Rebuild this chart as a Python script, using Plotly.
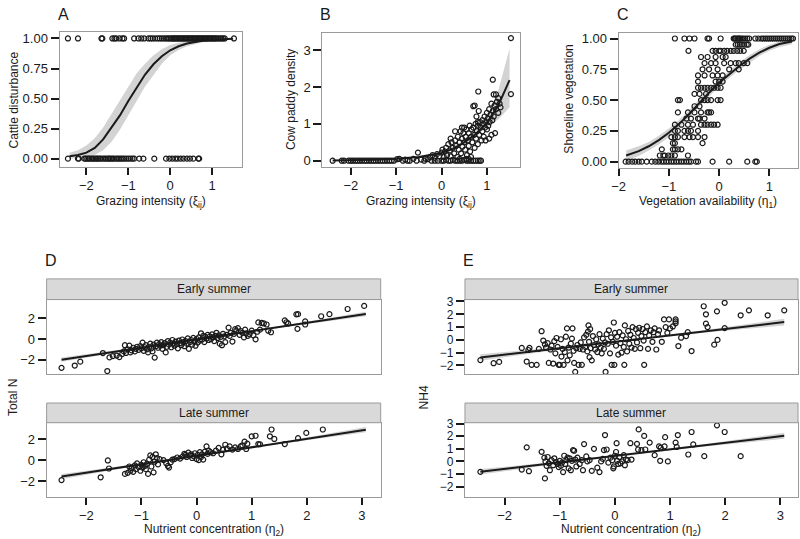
"""Seven-panel figure: grazing, vegetation and nutrient relationships."""

import plotly.graph_objects as go

W, H = 800, 539
FONT = "Liberation Sans, Arial, sans-serif"
INK = "#1a1a1a"
BAND = "#d3d3d3"
FRAME = "#9a9a9a"
STRIP = "#d9d9d9"

# ---- A: cattle disturbance (0/1) vs grazing intensity ----
A_TOP_X = [-2.44, -2.2, -1.64, -1.62, -1.38, -1.33, -1.29, -1.21, -1.14, -1.1, -0.86, -0.76,
           -0.69, -0.62, -0.52, -0.47, -0.42, -0.36, -0.3, -0.25, -0.2, -0.15, -0.1, -0.06,
           -0.02, 0.02, 0.05, 0.08, 0.11, 0.14, 0.17, 0.2, 0.23, 0.26, 0.29, 0.32, 0.35, 0.38,
           0.41, 0.44, 0.47, 0.5, 0.53, 0.56, 0.59, 0.62, 0.65, 0.68, 0.71, 0.74, 0.77, 0.8,
           0.83, 0.86, 0.89, 0.92, 0.95, 0.98, 1.01, 1.04, 1.07, 1.1, 1.14, 1.18, 1.22, 1.26,
           1.3, 1.52]
A_BOT_X = [-2.44, -2.2, -2.18, -2.05, -2.02, -1.98, -1.95, -1.92, -1.88, -1.85, -1.82, -1.78,
           -1.75, -1.72, -1.68, -1.65, -1.6, -1.56, -1.52, -1.48, -1.45, -1.42, -1.38, -1.35,
           -1.3, -1.26, -1.22, -1.18, -1.14, -1.1, -1.05, -1.0, -0.95, -0.9, -0.86, -0.74,
           -0.64, -0.38, -0.1, -0.02, 0.05, 0.12, 0.18, 0.25, 0.32, 0.4, 0.47, 0.55, 0.67, 0.69]
A_FIT_X = [-2.4, -2.2, -2.0, -1.8, -1.6, -1.4, -1.2, -1.0, -0.8, -0.6, -0.4, -0.2, 0.0, 0.2,
           0.4, 0.6, 0.8, 1.0, 1.2, 1.5]
A_FIT = [0.02, 0.03, 0.05, 0.09, 0.16, 0.255, 0.36, 0.48, 0.595, 0.70, 0.785, 0.852, 0.902,
         0.935, 0.958, 0.973, 0.983, 0.989, 0.993, 0.997]
A_LO = [0.0, 0.005, 0.015, 0.03, 0.07, 0.14, 0.24, 0.36, 0.48, 0.60, 0.70, 0.79, 0.86, 0.905,
        0.935, 0.955, 0.97, 0.98, 0.986, 0.992]
A_HI = [0.05, 0.07, 0.11, 0.17, 0.26, 0.37, 0.48, 0.60, 0.71, 0.79, 0.86, 0.91, 0.945, 0.965,
        0.978, 0.987, 0.992, 0.995, 0.997, 0.999]

# ---- B: cow paddy density vs grazing intensity ----
B_PTS = [
    (-2.4, 0), (-2.2, 0), (-2.15, 0), (-2.05, 0), (-2.0, 0), (-1.95, 0), (-1.9, 0), (-1.85, 0),
    (-1.8, 0), (-1.75, 0), (-1.7, 0), (-1.65, 0), (-1.6, 0), (-1.55, 0), (-1.5, 0), (-1.45, 0),
    (-1.4, 0), (-1.35, 0), (-1.3, 0), (-1.25, 0), (-1.2, 0), (-1.15, 0), (-1.1, 0), (-1.05, 0),
    (-0.98, 0.04), (-0.93, 0.05), (-0.85, 0), (-0.8, 0.03), (-0.75, 0), (-0.7, 0),
    (-0.62, 0.05), (-0.55, 0), (-0.52, 0.22), (-0.45, 0.03), (-0.38, 0), (-0.35, 0.05),
    (-0.3, 0.04), (-0.25, 0.1), (-0.22, 0), (-0.2, 0.15), (-0.15, 0.08), (-0.15, 0),
    (-0.1, 0.18), (-0.08, 0), (-0.05, 0.12), (0.0, 0.22), (0.0, 0), (0.02, 0.3), (0.05, 0.1),
    (0.05, 0), (0.08, 0.25), (0.1, 0.35), (0.1, 0.02), (0.12, 0.15), (0.15, 0.45), (0.15, 0),
    (0.18, 0.28), (0.2, 0.12), (0.2, 0.6), (0.2, 0), (0.22, 0.5), (0.25, 0.35), (0.25, 0.02),
    (0.28, 0.2), (0.3, 0.55), (0.3, 0.8), (0.3, 0), (0.32, 0.4), (0.35, 0.1), (0.35, 0),
    (0.36, 0.65), (0.38, 0.3), (0.4, 0.5), (0.4, 0.05), (0.4, 0), (0.42, 0.8), (0.43, 0.2),
    (0.45, 0.6), (0.45, 0.9), (0.45, 0), (0.46, 0.38), (0.48, 0.75), (0.5, 0.9), (0.5, 0.5),
    (0.5, 0.02), (0.52, 0.3), (0.53, 0.65), (0.55, 0.85), (0.55, 0.05), (0.55, 0),
    (0.56, 0.15), (0.58, 0.55), (0.6, 0.75), (0.6, 0.4), (0.6, 0.05), (0.6, 0), (0.62, 0.95),
    (0.63, 0.25), (0.65, 0.65), (0.65, 0.1), (0.65, 0), (0.66, 0.85), (0.68, 0.5), (0.7, 0.9),
    (0.7, 1.48), (0.7, 0), (0.72, 0.7), (0.73, 0.35), (0.73, 1.5), (0.75, 1.0), (0.75, 0),
    (0.76, 0.6), (0.77, 1.2), (0.78, 0.8), (0.8, 0.95), (0.8, 0.45), (0.8, 1.05), (0.8, 0),
    (0.82, 1.35), (0.81, 1.88), (0.83, 0.7), (0.84, 0), (0.85, 1.05), (0.86, 0.9), (0.87, 0),
    (0.88, 0.55), (0.9, 1.1), (0.9, 0.8), (0.92, 1.0), (0.93, 0.65), (0.95, 1.2), (0.96, 0.9),
    (0.97, 0.55), (0.98, 1.05), (1.0, 1.3), (1.0, 0.85), (1.02, 1.15), (1.03, 0.95),
    (1.05, 1.4), (1.05, 0.6), (1.06, 1.05), (1.08, 1.25), (1.1, 0.7), (1.1, 1.55),
    (1.12, 1.1), (1.13, 1.35), (1.13, 2.2), (1.15, 1.8), (1.15, 1.2), (1.17, 1.5),
    (1.18, 0.75), (1.2, 1.8), (1.2, 1.4), (1.22, 1.6), (1.25, 1.7), (1.25, 1.3), (1.28, 1.55),
    (1.3, 1.45), (1.53, 3.33), (1.53, 1.81),
]
B_FIT_X = [-2.4, -2.0, -1.5, -1.0, -0.5, 0.0, 0.25, 0.5, 0.75, 1.0, 1.25, 1.5]
B_FIT = [0.006, 0.011, 0.023, 0.05, 0.10, 0.21, 0.32, 0.50, 0.72, 1.03, 1.50, 2.19]
B_LO = [0.003, 0.006, 0.015, 0.036, 0.08, 0.18, 0.28, 0.45, 0.65, 0.92, 1.12, 1.45]
B_HI = [0.012, 0.02, 0.035, 0.07, 0.13, 0.25, 0.37, 0.56, 0.80, 1.16, 1.90, 3.05]

# ---- C: shoreline vegetation vs vegetation availability ----
C_LEVELS = [1.0, 0.95, 0.9, 0.85, 0.8, 0.75, 0.7, 0.65, 0.6, 0.55, 0.5, 0.45, 0.4, 0.35, 0.3,
            0.25, 0.2, 0.15, 0.1, 0.05, 0.0]
C_ROWS = [
    [-0.88, -0.69, -0.59, -0.49, -0.23, -0.2, 0.03, 0.29, 0.31, 0.33, 0.36, 0.38, 0.4, 0.42,
     0.45, 0.48, 0.52, 0.56, 0.6, 0.72, 0.78, 0.84, 0.88, 0.92, 0.96, 1.0, 1.04, 1.08, 1.12,
     1.16, 1.2, 1.24, 1.28, 1.32, 1.36, 1.4, 1.44, 1.47],
    [0.33, 0.37, 0.41, 0.45, 0.5, 0.55, 0.58],
    [-0.61, -0.13, -0.07, 0.0, 0.03, 0.1, 0.16, 0.23, 0.29, 0.36, 0.42, 0.49],
    [-0.36, -0.23, -0.07, 0.07, 0.13],
    [-0.29, -0.16, -0.07, 0.1, 0.23, 0.33, 0.39, 0.49, 0.56],
    [-0.33, -0.2, -0.03, 0.2, 0.39],
    [-0.42, -0.29, -0.13, -0.03, 0.07],
    [-0.42, -0.07, 0.0, 0.07],
    [-0.42, -0.36, -0.29, -0.23, -0.16, -0.1, -0.03, 0.03],
    [-0.49, -0.39, -0.26],
    [-0.82, -0.78, -0.36, -0.29, -0.23, -0.16, -0.03, 0.03],
    [-0.49, -0.39],
    [-0.82, -0.62, -0.49, -0.36, -0.23, -0.2, -0.16],
    [-0.65, -0.56, -0.42, -0.39, -0.29],
    [-0.88, -0.75, -0.62, -0.52, -0.36, -0.29, -0.23, -0.16, -0.1, -0.03],
    [-0.88, -0.82, -0.69, -0.62, -0.56, -0.42],
    [-0.95, -0.88, -0.82, -0.69, -0.59, -0.52, -0.42, -0.29],
    [-0.92, -0.88, -0.33],
    [-1.14, -0.92, -0.88, -0.82, -0.75],
    [-1.18, -1.11, -1.08, -1.01, -0.95, -0.88, -0.62],
    [-1.86, -1.8, -1.73, -1.67, -1.6, -1.54, -1.44, -1.34, -1.27, -1.21, -1.15, -1.1, -1.05,
     -1.0, -0.95, -0.9, -0.85, -0.8, -0.75, -0.7, -0.65, -0.6, -0.56, -0.46, -0.42, -0.13,
     0.2, 0.56, 0.72, 0.75],
]
C_FIT_X = [-1.85, -1.6, -1.4, -1.2, -1.0, -0.8, -0.6, -0.4, -0.2, 0.0, 0.2, 0.4, 0.6, 0.8,
           1.0, 1.2, 1.45]
C_FIT = [0.05, 0.085, 0.125, 0.175, 0.235, 0.305, 0.385, 0.475, 0.56, 0.64, 0.71, 0.775,
         0.835, 0.885, 0.925, 0.955, 0.975]
C_LO = [0.01, 0.045, 0.09, 0.14, 0.2, 0.272, 0.355, 0.445, 0.53, 0.61, 0.68, 0.745, 0.805,
        0.858, 0.9, 0.932, 0.953]
C_HI = [0.09, 0.125, 0.16, 0.21, 0.27, 0.338, 0.415, 0.505, 0.59, 0.67, 0.74, 0.805, 0.865,
        0.912, 0.95, 0.975, 0.992]

# ---- D: total N vs nutrient concentration ----
D_EARLY = [
    (-2.45, -2.79), (-2.21, -2.57), (-2.11, -2.19), (-1.7, -1.36), (-1.62, -3.1),
    (-1.58, -1.78), (-1.52, -1.65), (-1.45, -1.6), (-1.4, -1.75), (-1.35, -1.45),
    (-1.32, -1.2), (-1.3, -0.6), (-1.28, -1.35), (-1.25, -1.0), (-1.22, -0.65), (-1.2, -1.3),
    (-1.18, -1.1), (-1.15, -0.85), (-1.12, -1.2), (-1.1, -0.95), (-1.08, -0.75),
    (-1.05, -1.05), (-1.02, -0.7), (-1.0, -0.9), (-0.98, -0.35), (-0.96, -1.15),
    (-0.94, -0.8), (-0.92, -0.6), (-0.9, -1.0), (-0.88, -1.3), (-0.86, -0.75), (-0.84, -0.45),
    (-0.82, -0.9), (-0.8, -1.2), (-0.78, -0.55), (-0.76, -1.8), (-0.74, -0.7), (-0.72, -0.35),
    (-0.7, -0.85), (-0.68, -0.5), (-0.66, -0.65), (-0.64, -0.3), (-0.62, -0.95), (-0.6, -0.6),
    (-0.58, -0.4), (-0.56, -1.3), (-0.54, -0.75), (-0.52, -0.2), (-0.5, -0.55), (-0.48, -0.35),
    (-0.46, -0.8), (-0.44, -0.1), (-0.42, -0.45), (-0.4, -0.65), (-0.38, -0.25), (-0.36, -0.5),
    (-0.34, -0.9), (-0.32, -0.15), (-0.3, -0.4), (-0.28, -0.6), (-0.26, -0.05), (-0.24, -0.3),
    (-0.22, -0.7), (-0.2, -0.2), (-0.18, -0.45), (-0.16, 0.05), (-0.14, -0.95), (-0.12, -0.3),
    (-0.1, -0.1), (-0.08, -0.55), (-0.06, 0.1), (-0.04, -0.25), (-0.02, -0.65), (0.0, 0.0),
    (0.02, -0.35), (0.04, 0.15), (0.06, -0.15), (0.08, 0.55), (0.1, -0.05), (0.12, 0.3),
    (0.14, -0.3), (0.16, 0.2), (0.18, 0.05), (0.2, 0.4), (0.22, -0.1), (0.24, 0.25),
    (0.26, 0.0), (0.28, 0.45), (0.3, 0.15), (0.32, -0.2), (0.34, 0.3), (0.36, 0.6),
    (0.38, 0.1), (0.4, 0.35), (0.42, -0.45), (0.44, 0.2), (0.46, -0.6), (0.48, 0.5),
    (0.5, 0.25), (0.52, -0.3), (0.55, 0.4), (0.58, 1.1), (0.6, 0.3), (0.62, 0.6),
    (0.65, -0.25), (0.68, 0.5), (0.7, 0.95), (0.72, 0.8), (0.75, 1.05), (0.78, 0.4),
    (0.8, 0.75), (0.83, 0.6), (0.86, 0.15), (0.88, 0.9), (0.9, 0.55), (0.93, 0.3),
    (0.96, 0.45), (1.0, 0.8), (1.03, 0.35), (1.07, -0.03), (1.1, 0.7), (1.12, 1.6),
    (1.15, 0.9), (1.18, 1.55), (1.22, 1.5), (1.27, 1.4), (1.3, 0.8), (1.35, 0.65),
    (1.6, 1.8), (1.63, 1.62), (1.66, 1.5), (1.81, 2.38), (1.84, 2.4), (1.83, 0.98),
    (1.97, 1.7), (1.97, 1.4), (2.26, 2.2), (2.41, 2.4), (2.74, 2.9), (3.04, 3.2),
]
D_LATE = [
    (-2.45, -1.88), (-1.74, -1.62), (-1.61, -0.03), (-1.59, -0.79), (-1.3, -1.3),
    (-1.25, -1.2), (-1.22, -0.6), (-1.2, -1.0), (-1.18, -0.75), (-1.15, -1.1), (-1.12, -0.5),
    (-1.1, -0.85), (-1.08, -0.3), (-1.05, -0.65), (-1.02, -1.0), (-1.0, -0.45), (-0.98, -0.7),
    (-0.96, -0.2), (-0.94, -0.55), (-0.92, -0.85), (-0.9, -0.35), (-0.88, -1.3), (-0.86, 0.05),
    (-0.84, 0.45), (-0.82, -0.6), (-0.8, 0.3), (-0.78, -1.15), (-0.76, -0.15), (-0.74, 0.55),
    (-0.72, 0.2), (-0.7, -0.4), (-0.67, 0.1), (-0.6, 0.0), (-0.55, -0.3), (-0.52, -0.55),
    (-0.5, -0.7), (-0.47, -0.2), (-0.44, 0.05), (-0.4, 0.1), (-0.35, 0.25), (-0.3, 0.15),
    (-0.25, 0.35), (-0.22, 0.6), (-0.2, 0.5), (-0.18, 0.3), (-0.15, 0.7), (-0.12, 0.45),
    (-0.1, 0.55), (-0.08, 0.2), (-0.05, 0.35), (-0.03, 0.65), (0.0, 0.1), (0.02, 0.5),
    (0.04, 0.0), (0.06, 0.75), (0.08, 0.3), (0.1, 0.55), (0.12, 0.05), (0.15, 0.8),
    (0.18, 1.3), (0.2, 0.6), (0.22, 0.9), (0.25, 0.75), (0.3, 0.65), (0.35, 0.9), (0.4, 1.15),
    (0.45, 0.55), (0.48, 1.0), (0.52, 1.45), (0.55, 1.1), (0.6, 1.3), (0.65, 1.0), (0.7, 1.2),
    (0.75, 1.05), (0.8, 1.3), (0.83, 1.4), (0.87, 1.75), (0.9, 1.05), (0.92, 1.55),
    (1.0, 2.25), (1.07, 2.3), (1.12, 1.52), (1.15, 1.5), (1.33, 2.25), (1.36, 2.89),
    (1.41, 2.0), (1.6, 1.52), (1.84, 2.07), (1.99, 2.57), (2.29, 2.89),
]
D_FIT_X = [-2.45, -1.0, 0.3, 1.6, 3.07]
D_EARLY_FIT = [-2.0, -0.84, 0.2, 1.24, 2.42]
D_EARLY_LO = [-2.2, -0.92, 0.15, 1.15, 2.2]
D_EARLY_HI = [-1.8, -0.76, 0.25, 1.33, 2.64]
D_LATE_FIT = [-1.55, -0.39, 0.65, 1.69, 2.87]
D_LATE_LO = [-1.8, -0.47, 0.6, 1.6, 2.62]
D_LATE_HI = [-1.3, -0.31, 0.7, 1.78, 3.12]

# ---- E: NH4 vs nutrient concentration ----
E_EARLY = [
    (-2.44, -1.58), (-2.2, -1.82), (-2.1, -1.72), (-1.69, -0.63), (-1.6, -1.69),
    (-1.57, -0.79), (-1.55, -0.63), (-1.51, -1.95), (-1.42, -1.95), (-1.38, -0.7),
    (-1.33, 0.68), (-1.3, -0.05), (-1.27, -0.35), (-1.25, -0.6), (-1.22, -0.25), (-1.2, -1.8),
    (-1.17, -0.75), (-1.15, -0.45), (-1.12, -1.85), (-1.1, -0.1), (-1.08, -1.05),
    (-1.06, 0.15), (-1.04, -0.55), (-1.02, -1.95), (-1.0, -1.95), (-0.98, 0.05), (-0.97, -1.3),
    (-0.95, -0.7), (-0.93, -1.95), (-0.91, -0.95), (-0.89, 0.25), (-0.87, 0.9), (-0.86, -1.6),
    (-0.84, -0.6), (-0.82, -1.2), (-0.8, -0.3), (-0.78, 0.1), (-0.77, 0.9), (-0.75, -0.85),
    (-0.74, -1.8), (-0.72, -2.5), (-0.7, -0.65), (-0.68, -0.4), (-0.66, -1.95), (-0.64, -0.7),
    (-0.62, -0.2), (-0.6, -1.95), (-0.58, -0.75), (-0.56, 0.2), (-0.54, -0.55), (-0.52, 0.4),
    (-0.5, -0.9), (-0.49, 0.65), (-0.48, 1.13), (-0.47, -0.15), (-0.46, -1.35), (-0.45, 0.85),
    (-0.44, -0.65), (-0.42, -1.6), (-0.4, 0.3), (-0.38, -0.4), (-0.36, -0.75), (-0.34, 0.05),
    (-0.32, -0.95), (-0.3, -0.35), (-0.28, 0.45), (-0.26, -0.6), (-0.24, -1.05), (-0.22, 0.1),
    (-0.2, -0.7), (-0.18, -0.2), (-0.17, -2.5), (-0.15, 0.45), (-0.13, -0.3), (-0.11, 0.75),
    (-0.09, -1.05), (-0.07, 0.2), (-0.06, -1.95), (-0.04, -0.15), (-0.02, 1.36), (-0.01, -1.95),
    (0.0, 0.55), (0.02, -0.45), (0.04, 0.25), (0.06, -1.15), (0.08, 0.6), (0.1, -0.25),
    (0.12, -1.0), (0.14, 0.35), (0.16, -0.55), (0.17, -1.95), (0.18, 1.13), (0.2, 0.05),
    (0.22, -0.9), (0.24, 0.7), (0.26, -0.3), (0.28, 0.4), (0.3, -0.6), (0.32, 1.0),
    (0.34, 0.15), (0.36, -0.7), (0.38, 0.85), (0.4, -0.2), (0.42, 0.55), (0.44, 0.95),
    (0.46, -0.65), (0.48, 0.3), (0.5, 0.85), (0.52, -0.05), (0.53, -1.95), (0.55, 0.6),
    (0.58, 1.05), (0.6, -0.7), (0.62, 0.35), (0.65, 0.75), (0.68, -0.15), (0.7, 0.6),
    (0.72, 0.9), (0.75, -0.75), (0.78, 0.45), (0.8, 0.75), (0.85, -0.15), (0.89, 1.6),
    (0.92, 1.0), (0.95, 0.55), (0.98, 1.6), (1.0, 0.9), (1.05, 1.05), (1.1, 1.6),
    (1.1, 1.45), (1.1, 1.3), (1.15, -0.48), (1.2, 0.17), (1.29, 0.3), (1.32, 0.6),
    (1.39, -0.87), (1.61, 2.63), (1.65, 2.0), (1.65, 1.27), (1.68, 1.0), (1.8, -0.37),
    (1.86, 0.0), (1.85, 2.23), (1.99, 2.9), (1.99, 0.92), (2.28, 1.92), (2.43, 2.31),
    (2.77, 1.92), (3.07, 2.31),
]
E_LATE = [
    (-2.44, -0.83), (-1.69, -0.65), (-1.6, 1.12), (-1.56, -0.78), (-1.33, 0.76), (-1.27, -1.35),
    (-1.28, 0.3), (-1.26, 0.0), (-1.24, -0.35), (-1.22, 0.35), (-1.2, -0.15), (-1.18, -0.7),
    (-1.15, 0.1), (-1.12, -0.3), (-1.1, 0.25), (-1.07, -0.05), (-1.04, -0.2), (-1.02, -0.45),
    (-1.0, 0.05), (-0.98, -0.35), (-0.96, -0.1), (-0.94, -0.85), (-0.92, 0.45), (-0.9, -0.2),
    (-0.88, 0.1), (-0.86, 0.3), (-0.84, -0.55), (-0.82, 0.25), (-0.8, -0.7), (-0.78, 0.05),
    (-0.76, 0.9), (-0.74, 0.85), (-0.72, 0.15), (-0.7, -0.4), (-0.68, 0.3), (-0.64, -0.2),
    (-0.6, 0.1), (-0.58, -0.7), (-0.56, 1.38), (-0.52, 0.4), (-0.5, 0.0), (-0.46, 0.1),
    (-0.42, -0.75), (-0.38, 1.0), (-0.32, -0.5), (-0.28, -0.85), (-0.25, 0.0), (-0.22, 0.2),
    (-0.2, 0.9), (-0.18, 2.1), (-0.15, 0.95), (-0.12, -0.1), (-0.08, 0.3), (-0.05, 0.1),
    (-0.03, -0.55), (-0.02, -0.4), (0.0, 0.45), (0.03, 1.45), (0.02, 0.75), (0.04, 0.05),
    (0.06, -0.2), (0.08, 0.35), (0.1, -0.15), (0.13, 0.0), (0.16, 0.5), (0.18, -0.3),
    (0.2, 0.15), (0.23, 0.1), (0.28, 1.45), (0.3, 0.15), (0.4, 1.4), (0.43, 2.55), (0.42, 0.95),
    (0.48, 0.9), (0.53, 2.03), (0.55, 0.95), (0.63, 1.5), (0.72, 0.5), (0.8, 1.2), (0.82, 0.05),
    (0.83, 1.1), (0.91, 1.93), (0.9, 1.2), (0.96, 0.0), (1.1, 1.5), (1.12, 1.15), (1.14, 2.1),
    (1.33, 0.55), (1.39, 2.34), (1.42, 1.35), (1.62, 0.42), (1.85, 2.87), (1.99, 2.34),
    (2.28, 0.42),
]
E_FIT_X = [-2.44, -1.0, 0.3, 1.6, 3.07]
E_EARLY_FIT = [-1.37, -0.65, 0.0, 0.65, 1.39]
E_EARLY_LO = [-1.62, -0.75, -0.06, 0.55, 1.13]
E_EARLY_HI = [-1.12, -0.55, 0.06, 0.75, 1.65]
E_LATE_FIT = [-0.83, -0.08, 0.6, 1.27, 2.04]
E_LATE_LO = [-1.05, -0.17, 0.54, 1.17, 1.8]
E_LATE_HI = [-0.61, 0.01, 0.66, 1.37, 2.28]


def fx(p):
    return p / W


def fy(p):
    return 1 - p / H


def add_panel(fig, n, px, py, fit_x, fit, lo, hi):
    ax = "" if n == 1 else str(n)
    ref = dict(xaxis="x" + ax, yaxis="y" + ax, showlegend=False, hoverinfo="skip")
    fig.add_trace(go.Scatter(x=fit_x + fit_x[::-1], y=hi + lo[::-1], fill="toself",
                             fillcolor=BAND, mode="lines", line=dict(width=0), **ref))
    fig.add_trace(go.Scatter(x=px, y=py, mode="markers",
                             marker=dict(symbol="circle-open", size=5, color=INK,
                                         line=dict(width=1.2)), **ref))
    fig.add_trace(go.Scatter(x=fit_x, y=fit, mode="lines",
                             line=dict(color=INK, width=2), **ref))


fig = go.Figure()
add_panel(fig, 1, A_TOP_X + A_BOT_X, [1.0] * len(A_TOP_X) + [0.0] * len(A_BOT_X),
          A_FIT_X, A_FIT, A_LO, A_HI)
add_panel(fig, 2, [p[0] for p in B_PTS], [p[1] for p in B_PTS], B_FIT_X, B_FIT, B_LO, B_HI)
c_x = [x for row in C_ROWS for x in row]
c_y = [lvl for lvl, row in zip(C_LEVELS, C_ROWS) for _ in row]
add_panel(fig, 3, c_x, c_y, C_FIT_X, C_FIT, C_LO, C_HI)
add_panel(fig, 4, [p[0] for p in D_EARLY], [p[1] for p in D_EARLY],
          D_FIT_X, D_EARLY_FIT, D_EARLY_LO, D_EARLY_HI)
add_panel(fig, 5, [p[0] for p in D_LATE], [p[1] for p in D_LATE],
          D_FIT_X, D_LATE_FIT, D_LATE_LO, D_LATE_HI)
add_panel(fig, 6, [p[0] for p in E_EARLY], [p[1] for p in E_EARLY],
          E_FIT_X, E_EARLY_FIT, E_EARLY_LO, E_EARLY_HI)
add_panel(fig, 7, [p[0] for p in E_LATE], [p[1] for p in E_LATE],
          E_FIT_X, E_LATE_FIT, E_LATE_LO, E_LATE_HI)

# pixel boxes: (left, right, top, bottom), axis ranges, ticks
PANELS = {
    1: dict(box=(53, 237, 26, 163), xr=[-2.64, 1.71], yr=[-0.066, 1.057],
            xt=[-2, -1, 0, 1], yt=[0, 0.25, 0.5, 0.75, 1], yf=".2f"),
    2: dict(box=(318, 518, 27, 163), xr=[-2.63, 1.74], yr=[-0.16, 3.48],
            xt=[-2, -1, 0, 1], yt=[0, 1, 2, 3], yf=""),
    3: dict(box=(617, 798, 27, 164), xr=[-2.0, 1.57], yr=[-0.048, 1.048],
            xt=[-2, -1, 0, 1], yt=[0, 0.25, 0.5, 0.75, 1], yf=".2f"),
    4: dict(box=(40, 377, 298, 374), xr=[-2.72, 3.34], yr=[-3.43, 3.81],
            xt=None, yt=[-2, 0, 2], yf=""),
    5: dict(box=(40, 377, 423, 498), xr=[-2.72, 3.34], yr=[-3.44, 3.53],
            xt=[-2, -1, 0, 1, 2, 3], yt=[-2, 0, 2], yf=""),
    6: dict(box=(462, 798, 298, 374), xr=[-2.72, 3.32], yr=[-2.7, 3.15],
            xt=None, yt=[-2, -1, 0, 1, 2, 3], yf=""),
    7: dict(box=(462, 798, 423, 498), xr=[-2.72, 3.32], yr=[-2.8, 3.08],
            xt=[-2, -1, 0, 1, 2, 3], yt=[-2, -1, 0, 1, 2, 3], yf=""),
}

common = dict(showline=True, mirror=True, linecolor=FRAME, linewidth=1, showgrid=False,
              zeroline=False, tickcolor=INK, tickwidth=1.6, ticklen=8,
              tickfont=dict(family=FONT, size=13, color=INK))
axes = {}
for n, p in PANELS.items():
    ax = "" if n == 1 else str(n)
    l, r, t, b = p["box"]
    xa = dict(common, domain=[fx(l), fx(r)], range=p["xr"], anchor="y" + ax, ticklen=7)
    if p["xt"] is None:
        xa.update(ticks="", showticklabels=False)
    else:
        xa.update(ticks="outside", tickvals=p["xt"])
    ya = dict(common, domain=[fy(b), fy(t)], range=p["yr"], anchor="x" + ax,
              ticks="outside", tickvals=p["yt"], tickformat=p["yf"])
    if n in (6, 7):
        ya.update(tickfont=dict(family=FONT, size=12, color=INK))
    axes["xaxis" + ax] = xa
    axes["yaxis" + ax] = ya

shapes = []
annotations = []


def note(text, x, y, size=12, angle=0, xanchor="center"):
    annotations.append(dict(text=text, x=fx(x), y=fy(y), xref="paper", yref="paper",
                            showarrow=False, textangle=angle, xanchor=xanchor,
                            yanchor="middle", font=dict(family=FONT, size=size, color=INK)))


for (l, r), label_x in (((40, 377), 208.5), ((462, 798), 630)):
    for (t, b), label in (((277, 298), "Early summer"), ((403, 423), "Late summer")):
        shapes.append(dict(type="rect", xref="paper", yref="paper", x0=fx(l), x1=fx(r),
                           y0=fy(b), y1=fy(t), fillcolor=STRIP,
                           line=dict(color=FRAME, width=1)))
        note(label, label_x, (t + b) / 2)

note("A", 49, 9, size=16, xanchor="left")
note("B", 314, 9, size=16, xanchor="left")
note("C", 613, 9, size=16, xanchor="left")
note("D", 36, 258, size=16, xanchor="left")
note("E", 458, 258, size=16, xanchor="left")

note("Cattle disturbance", 7, 95, angle=-90)
note("Cow paddy density", 286, 95, angle=-90)
note("Shoreline vegetation", 567, 95, angle=-90)
note("Grazing intensity (ξ<sub>ij</sub>)", 145, 199)
note("Grazing intensity (ξ<sub>ij</sub>)", 418, 199)
note("Vegetation availability (η<sub>1</sub>)", 707, 199)
note("Total N", 6, 397, angle=-90)
note("NH4", 421, 397, angle=-90)
note("Nutrient concentration (η<sub>2</sub>)", 208.5, 532)
note("Nutrient concentration (η<sub>2</sub>)", 630, 532)

fig.update_layout(
    width=W,
    height=H,
    margin=dict(l=0, r=0, t=0, b=0),
    paper_bgcolor="white",
    plot_bgcolor="white",
    showlegend=False,
    font=dict(family=FONT, color=INK),
    shapes=shapes,
    annotations=annotations,
    **axes,
)

# the page body keeps the browser's default 8px margin; drop it so pixels line up
fig.write_html("out.html", config={"displayModeBar": False},
               post_script="document.body.style.margin = '0';")
